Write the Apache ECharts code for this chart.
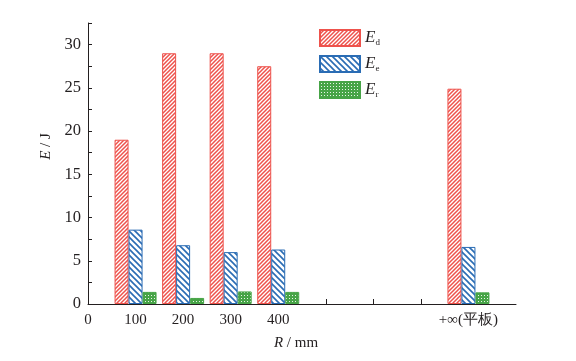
<!DOCTYPE html>
<html><head><meta charset="utf-8">
<script src="https://cdn.jsdelivr.net/npm/echarts@6/dist/echarts.min.js"></script>
<style>html,body{margin:0;padding:0;background:#fff}#c{width:576px;height:361px}</style>
</head><body><div id="c"></div>
<script>
const categories = ['0','100','200','300','400','500','600','700','800','900'];
const tickLabels = ['0','100','200','300','400','','','','+∞(平板)',''];
const Ed = [null, 19.0, 29.0, 29.0, 27.5, null, null, null, 24.9, null];
const Ee = [null, 8.6, 6.8, 6.0, 6.3, null, null, null, 6.6, null];
const Er = [null, 1.4, 0.7, 1.45, 1.4, null, null, null, 1.35, null];
const seriesNames = ['Ed','Ee','Er'];

function pattern(kind){
  const c = document.createElement('canvas');
  let s;
  if (kind === 'red') {
    s = 4; c.width = s; c.height = s;
    const g = c.getContext('2d');
    g.fillStyle = '#fff'; g.fillRect(0,0,s,s);
    g.strokeStyle = '#ee524c'; g.lineWidth = 1.5;
    g.beginPath();
    g.moveTo(-1, s+1); g.lineTo(s+1, -1);
    g.moveTo(-1, 1); g.lineTo(1, -1);
    g.moveTo(s-1, s+1); g.lineTo(s+1, s-1);
    g.stroke();
  } else if (kind === 'blue') {
    s = 6; c.width = s; c.height = s;
    const g = c.getContext('2d');
    g.fillStyle = '#fff'; g.fillRect(0,0,s,s);
    g.strokeStyle = '#2a6cb4'; g.lineWidth = 1.6;
    g.beginPath();
    g.moveTo(-1, -1); g.lineTo(s+1, s+1);
    g.moveTo(-1, s-1); g.lineTo(1, s+1);
    g.moveTo(s-1, -1); g.lineTo(s+1, 1);
    g.stroke();
  } else {
    s = 3; c.width = s; c.height = s;
    const g = c.getContext('2d');
    g.fillStyle = '#47a447'; g.fillRect(0,0,s,s);
    g.fillStyle = '#e8f4e8'; g.fillRect(1,1,1,1);
  }
  return {image: c, repeat: 'repeat'};
}

const borders = ['#ee524c', '#2a6cb4', '#47a447'];
const fills = [pattern('red'), pattern('blue'), pattern('green')];
const dataSets = [Ed, Ee, Er];
const subs = {Ed: 'd', Ee: 'e', Er: 'r'};

const chart = echarts.init(document.getElementById('c'), null, {renderer: 'canvas'});
const axisColor = '#231f20';
chart.setOption({
  animation: false,
  grid: {left: 88, right: 60, top: 23, bottom: 57},
  legend: {
    orient: 'vertical', left: 319, top: 29, padding: 0,
    itemWidth: 40, itemHeight: 16, itemGap: 8,
    icon: 'rect',
    data: seriesNames,
    formatter: n => '{e|E}{s|' + subs[n] + '}',
    textStyle: {
      lineHeight: 16,
      rich: {
        e: {fontFamily: 'Liberation Serif', fontStyle: 'italic', fontSize: 17, color: '#231f20', lineHeight: 16},
        s: {fontFamily: 'Liberation Serif', fontSize: 9, color: '#231f20', lineHeight: 16, padding: [9,0,0,0]}
      }
    }
  },
  xAxis: {
    type: 'category', data: categories, boundaryGap: false,
    axisLine: {lineStyle: {color: axisColor, width: 1}},
    axisTick: {inside: true, length: 5, lineStyle: {color: axisColor},
      interval: (i) => i > 0 && i < categories.length - 1},
    axisLabel: {interval: 0, margin: 9, color: axisColor, fontFamily: 'Liberation Serif', fontSize: 15,
      formatter: (v, i) => tickLabels[i]},
    name: '{i|R} / mm', nameLocation: 'middle', nameGap: 32,
    nameTextStyle: {color: axisColor, fontFamily: 'Liberation Serif', fontSize: 15, padding: [0, 12, 0, 0],
      rich: {i: {fontFamily: 'Liberation Serif', fontStyle: 'italic', fontSize: 15, color: axisColor}}}
  },
  yAxis: {
    type: 'value', min: 0, max: 32.5, interval: 2.5,
    splitLine: {show: false},
    axisLine: {show: true, lineStyle: {color: axisColor, width: 1}},
    axisTick: {show: true, inside: true, length: 4, lineStyle: {color: axisColor}},
    axisLabel: {margin: 7, color: axisColor, fontFamily: 'Liberation Serif', fontSize: 16.5,
      formatter: v => (Math.abs(v % 5) < 1e-9 ? String(v) : '')},
    name: '{i|E} / J', nameLocation: 'middle', nameGap: 34,
    nameTextStyle: {color: axisColor, fontFamily: 'Liberation Serif', fontSize: 15, padding: [0, 0, 0, 34],
      rich: {i: {fontFamily: 'Liberation Serif', fontStyle: 'italic', fontSize: 15, color: axisColor}}}
  },
  series: seriesNames.map((n, k) => ({
    name: n, type: 'bar', data: dataSets[k], barWidth: 14, barGap: '0%',
    itemStyle: {color: fills[k], borderColor: borders[k], borderWidth: 1}
  }))
});
</script></body></html>
